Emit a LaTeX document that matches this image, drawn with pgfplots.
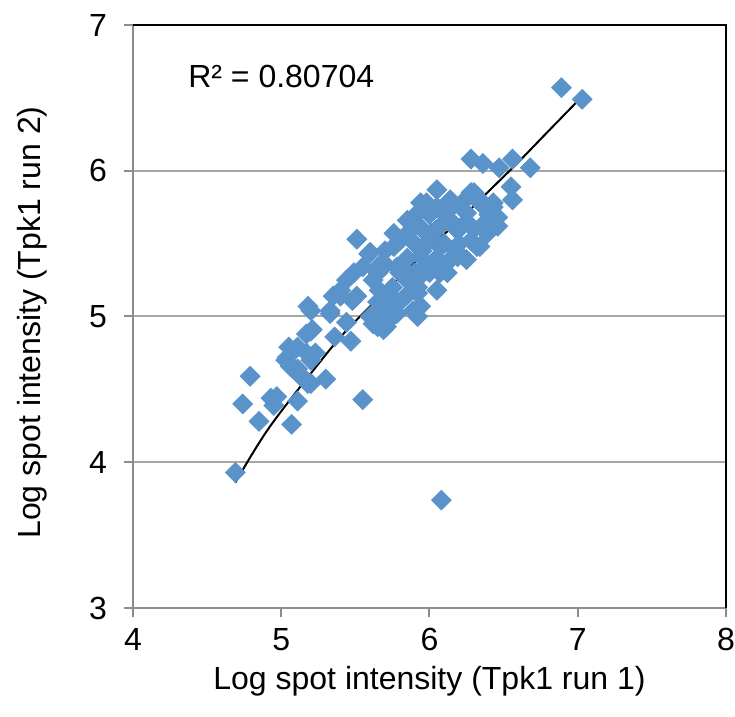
\documentclass[border=0pt]{standalone}
\usepackage{fontspec}
\setmainfont{Liberation Sans}
\usepackage{pgfplots}
\pgfplotsset{compat=1.18}
\definecolor{spot}{HTML}{5A92CA}
\definecolor{axgray}{HTML}{8C8C8C}
\definecolor{gridgray}{HTML}{A6A6A6}

% spot intensities, run 1 vs run 2
\pgfplotstableread{
x y
4.69 3.93
6.08 3.74
5.55 4.43
4.74 4.40
4.79 4.59
4.85 4.28
5.07 4.26
4.93 4.44
4.97 4.45
4.95 4.39
5.11 4.42
5.30 4.57
5.18 4.54
5.05 4.79
5.11 4.79
5.03 4.70
5.07 4.65
5.23 4.75
5.13 4.60
5.17 4.88
5.20 4.70
5.11 4.64
5.18 5.07
5.20 4.90
5.33 5.04
5.36 4.86
5.47 4.83
5.40 5.14
5.48 5.11
5.44 4.96
5.62 5.00
5.69 4.93
5.76 5.07
5.51 5.53
5.59 5.43
5.55 5.34
5.69 5.34
5.80 5.52
5.85 5.57
5.92 5.71
5.98 5.78
5.44 5.25
5.40 5.18
5.35 5.14
5.51 5.14
5.62 5.25
5.66 5.18
5.20 5.04
5.21 4.91
5.33 5.02
5.04 4.72
5.06 4.66
5.17 4.75
5.11 4.61
5.20 4.54
5.60 5.00
5.65 4.93
5.71 4.93
5.78 5.02
5.89 5.04
5.92 5.20
5.85 5.30
5.96 5.30
5.94 5.41
6.05 5.87
5.60 5.44
5.69 5.37
5.49 5.30
6.14 5.80
6.30 5.85
6.43 5.75
6.46 5.62
6.34 5.48
6.25 5.39
6.12 5.30
6.05 5.18
5.94 5.07
5.92 5.00
5.69 4.91
5.62 4.95
5.85 5.25
5.98 5.36
6.07 5.48
6.19 5.59
6.25 5.71
6.34 5.80
5.85 5.66
5.76 5.57
6.01 5.57
6.12 5.66
5.74 5.14
5.92 5.16
5.78 5.34
5.96 5.48
6.28 6.08
6.36 6.05
6.47 6.02
6.56 6.08
6.68 6.02
6.55 5.89
6.56 5.80
6.89 6.57
7.03 6.49
6.43 5.78
6.46 5.68
6.39 5.57
6.32 5.48
6.19 5.41
6.07 5.30
5.94 5.78
5.76 5.48
5.67 5.36
6.28 5.85
6.34 5.78
5.75 5.20
5.80 5.30
5.85 5.40
5.90 5.50
5.95 5.60
6.00 5.70
6.05 5.60
6.10 5.50
6.15 5.40
6.00 5.30
6.05 5.40
6.10 5.70
6.20 5.60
6.20 5.50
6.30 5.60
6.25 5.65
5.90 5.30
5.95 5.45
6.00 5.55
5.85 5.15
5.80 5.10
6.15 5.75
6.22 5.78
6.05 5.75
6.15 5.65
5.70 5.05
5.75 5.00
6.10 5.35
6.18 5.45
6.28 5.52
6.38 5.65
6.40 5.70
5.65 5.10
5.90 5.65
5.70 5.45
5.65 5.30
}\spots

% trendline
\pgfplotstableread{
x y
4.69 3.86
4.80 4.05
4.90 4.21
5.00 4.35
5.20 4.61
5.40 4.86
5.60 5.07
5.80 5.27
6.00 5.47
6.20 5.66
6.40 5.86
6.60 6.06
6.80 6.27
7.03 6.51
}\trend

\begin{document}
\begin{tikzpicture}
\useasboundingbox (-66.5pt,-54.5pt) rectangle (301pt,304pt);
\begin{axis}[
  name=ax,
  at={(0,0)}, anchor=south west,
  scale only axis,
  width=296.5pt, height=291.5pt,
  xmin=4, xmax=8, ymin=3, ymax=7,
  xtick={4,5,6,7,8}, ytick={3,4,5,6,7},
  xtick pos=bottom, ytick pos=left,
  tick align=outside,
  major tick length=4.5pt,
  tick style={draw=axgray, line width=1pt},
  axis line style={draw=axgray, line width=1pt},
  ymajorgrids,
  grid style={draw=gridgray, line width=1pt},
  /pgf/number format/assume math mode=true,
  ticklabel style={font=\fontsize{16}{19}\selectfont},
  xticklabel style={yshift=-2pt},
  yticklabel style={xshift=-5pt},
  xlabel={Log spot intensity (Tpk1 run 1)},
  ylabel={Log spot intensity (Tpk1 run 2)},
  label style={font=\fontsize{16}{19}\selectfont},
  xlabel style={at={(axis description cs:0.5,0)}, anchor=center, yshift=-36.5pt},
  ylabel style={at={(axis description cs:0,0.5)}, anchor=center, yshift=50.5pt, xshift=-3pt},
  clip=false,
]
\addplot[only marks, mark=square*, mark size=3.5pt,
  mark options={rotate=45, fill=spot, draw=spot}] table {\spots};
\addplot[black, line width=1pt, smooth, no marks] table {\trend};
\draw[black, line width=1pt] (rel axis cs:0,1) -- (rel axis cs:1,1) -- (rel axis cs:1,0);
\node[font=\fontsize{16}{19}\selectfont, anchor=center] at (axis cs:5.0,6.65) {R² = 0.80704};
\end{axis}
\end{tikzpicture}
\end{document}
